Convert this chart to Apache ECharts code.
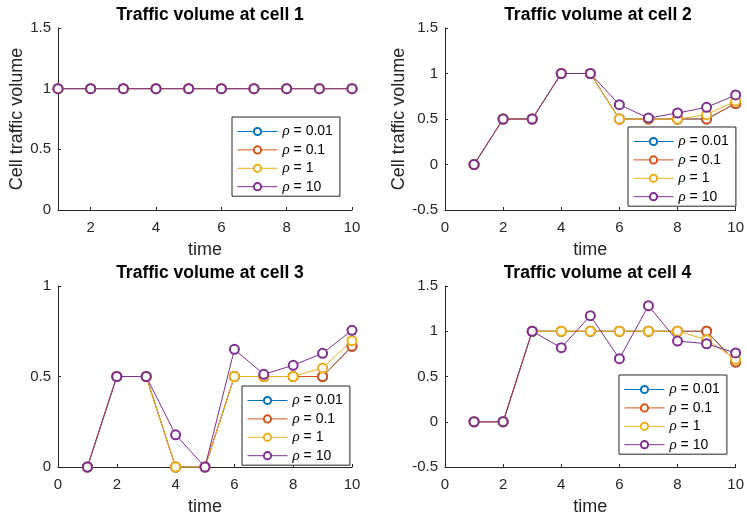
<!DOCTYPE html>
<html>
<head>
<meta charset="utf-8">
<script src="https://cdn.jsdelivr.net/npm/echarts@6/dist/echarts.min.js"></script>
<style>
  html, body { margin: 0; padding: 0; background: #fff; }
  #chart { width: 747px; height: 521px; }
</style>
</head>
<body>
<div id="chart"></div>
<script>
// Time steps and regularisation weights
const times = [1, 2, 3, 4, 5, 6, 7, 8, 9, 10];
const rhoNames = ['ρ = 0.01', 'ρ = 0.1', 'ρ = 1', 'ρ = 10'];
const cellTitles = ['Traffic volume at cell 1', 'Traffic volume at cell 2',
                    'Traffic volume at cell 3', 'Traffic volume at cell 4'];

// Cell 1 traffic volume per rho
const cell1Rho001 = [1, 1, 1, 1, 1, 1, 1, 1, 1, 1];
const cell1Rho01  = [1, 1, 1, 1, 1, 1, 1, 1, 1, 1];
const cell1Rho1   = [1, 1, 1, 1, 1, 1, 1, 1, 1, 1];
const cell1Rho10  = [1, 1, 1, 1, 1, 1, 1, 1, 1, 1];

// Cell 2 traffic volume per rho
const cell2Rho001 = [0, 0.5, 0.5, 1, 1, 0.5, 0.5, 0.5, 0.5, 0.67];
const cell2Rho01  = [0, 0.5, 0.5, 1, 1, 0.5, 0.5, 0.5, 0.5, 0.67];
const cell2Rho1   = [0, 0.5, 0.5, 1, 1, 0.5, 0.5, 0.5, 0.547, 0.698];
const cell2Rho10  = [0, 0.5, 0.5, 1, 1, 0.657, 0.51, 0.566, 0.628, 0.764];

// Cell 3 traffic volume per rho
const cell3Rho001 = [0, 0.5, 0.5, 0, 0, 0.5, 0.5, 0.5, 0.5, 0.667];
const cell3Rho01  = [0, 0.5, 0.5, 0, 0, 0.5, 0.5, 0.5, 0.5, 0.667];
const cell3Rho1   = [0, 0.5, 0.5, 0, 0, 0.5, 0.5, 0.5, 0.547, 0.698];
const cell3Rho10  = [0, 0.5, 0.5, 0.178, 0, 0.65, 0.512, 0.562, 0.628, 0.755];

// Cell 4 traffic volume per rho
const cell4Rho001 = [0, 0, 1, 1, 1, 1, 1, 1, 1, 0.66];
const cell4Rho01  = [0, 0, 1, 1, 1, 1, 1, 1, 1, 0.66];
const cell4Rho1   = [0, 0, 1, 1, 1, 1, 1, 1, 0.907, 0.69];
const cell4Rho10  = [0, 0, 1, 0.818, 1.172, 0.697, 1.282, 0.892, 0.862, 0.76];

// Axis ranges and tick labels
const xTicksCell1 = [2, 4, 6, 8, 10];
const xTicksOther = [0, 2, 4, 6, 8, 10];
const yTicksCell1 = [0, 0.5, 1, 1.5];
const yTicksCell2 = [-0.5, 0, 0.5, 1, 1.5];
const yTicksCell3 = [0, 0.5, 1];
const yTicksCell4 = [-0.5, 0, 0.5, 1, 1.5];

const cells = [
  [cell1Rho001, cell1Rho01, cell1Rho1, cell1Rho10],
  [cell2Rho001, cell2Rho01, cell2Rho1, cell2Rho10],
  [cell3Rho001, cell3Rho01, cell3Rho1, cell3Rho10],
  [cell4Rho001, cell4Rho01, cell4Rho1, cell4Rho10]
];

const colors = ['#0072BD', '#D95319', '#EDB120', '#7E2F8E'];
const ink = '#262626';
const font = '"Liberation Sans", Arial, Helvetica, sans-serif';

const grids = [
  { left: 58,  top: 28,  width: 294, height: 182 },
  { left: 445, top: 28,  width: 296, height: 182 },
  { left: 58,  top: 286, width: 294, height: 181 },
  { left: 445, top: 286, width: 295, height: 181 }
];
const xRanges = [[1, 10, xTicksCell1], [0, 10, xTicksOther], [0, 10, xTicksOther], [0, 10, xTicksOther]];
const yRanges = [
  [0, 1.5, yTicksCell1], [-0.5, 1.5, yTicksCell2],
  [0, 1, yTicksCell3], [-0.5, 1.5, yTicksCell4]
];
const yNameGaps = [31, 36, 31, 36];
const legendBoxes = [
  { left: 232, top: 117 }, { left: 628, top: 127 },
  { left: 242, top: 386 }, { left: 619, top: 375 }
];

const xAxes = grids.map((g, i) => ({
  type: 'value', gridIndex: i,
  min: xRanges[i][0], max: xRanges[i][1],
  name: 'time', nameLocation: 'middle', nameGap: 31,
  nameTextStyle: { color: ink, fontSize: 18, fontFamily: font },
  axisLine: { show: true, onZero: false, lineStyle: { color: ink, width: 1 } },
  axisTick: { show: true, inside: true, length: 3, customValues: xRanges[i][2], lineStyle: { color: ink } },
  axisLabel: { color: ink, fontSize: 15, fontFamily: font, margin: 10, customValues: xRanges[i][2] },
  splitLine: { show: false }
}));

const yAxes = grids.map((g, i) => ({
  type: 'value', gridIndex: i,
  min: yRanges[i][0], max: yRanges[i][1],
  name: i < 2 ? 'Cell traffic volume' : '',
  nameLocation: 'middle', nameGap: yNameGaps[i],
  nameTextStyle: { color: ink, fontSize: 18, fontFamily: font },
  axisLine: { show: true, onZero: false, lineStyle: { color: ink, width: 1 } },
  axisTick: { show: true, inside: true, length: 3, customValues: yRanges[i][2], lineStyle: { color: ink } },
  axisLabel: { color: ink, fontSize: 15, fontFamily: font, margin: 7, customValues: yRanges[i][2] },
  splitLine: { show: false }
}));

const titles = grids.map((g, i) => ({
  text: cellTitles[i],
  left: g.left + g.width / 2, top: g.top - 27,
  textAlign: 'center',
  textStyle: { color: '#000', fontSize: 17.5, fontWeight: 'bold', fontFamily: font }
}));

const legends = legendBoxes.map((b) => ({
  data: rhoNames,
  orient: 'vertical',
  left: b.left, top: b.top,
  itemWidth: 40, itemHeight: 9, itemGap: 3.4,
  padding: [7, 7, 2, 5],
  borderColor: ink, borderWidth: 1, backgroundColor: '#fff',
  selectedMode: false,
  lineStyle: { width: 1 },
  itemStyle: { borderWidth: 1 },
  formatter: (n) => '{r|ρ}' + n.slice(1),
  textStyle: {
    color: '#000', fontSize: 14, lineHeight: 14, fontFamily: font,
    rich: { r: { fontStyle: 'italic', fontFamily: '"Liberation Serif", serif', fontSize: 15, lineHeight: 14, color: '#000' } }
  }
}));

const series = [];
cells.forEach((cellSeries, gi) => {
  cellSeries.forEach((vals, si) => {
    series.push({
      type: 'line', name: rhoNames[si],
      xAxisIndex: gi, yAxisIndex: gi,
      data: times.map((t, k) => [t, vals[k]]),
      symbol: 'emptyCircle', symbolSize: 9,
      showAllSymbol: true,
      clip: false,
      color: colors[si],
      lineStyle: { width: 1, color: colors[si] },
      itemStyle: { color: colors[si], borderColor: colors[si], borderWidth: 1 },
      emphasis: { disabled: true },
      animation: false,
      z: 2 + si
    });
  });
});

const chart = echarts.init(document.getElementById('chart'), null, { renderer: 'canvas' });
chart.setOption({
  animation: false,
  backgroundColor: '#fff',
  title: titles,
  legend: legends,
  grid: grids,
  xAxis: xAxes,
  yAxis: yAxes,
  series: series
});
</script>
</body>
</html>
